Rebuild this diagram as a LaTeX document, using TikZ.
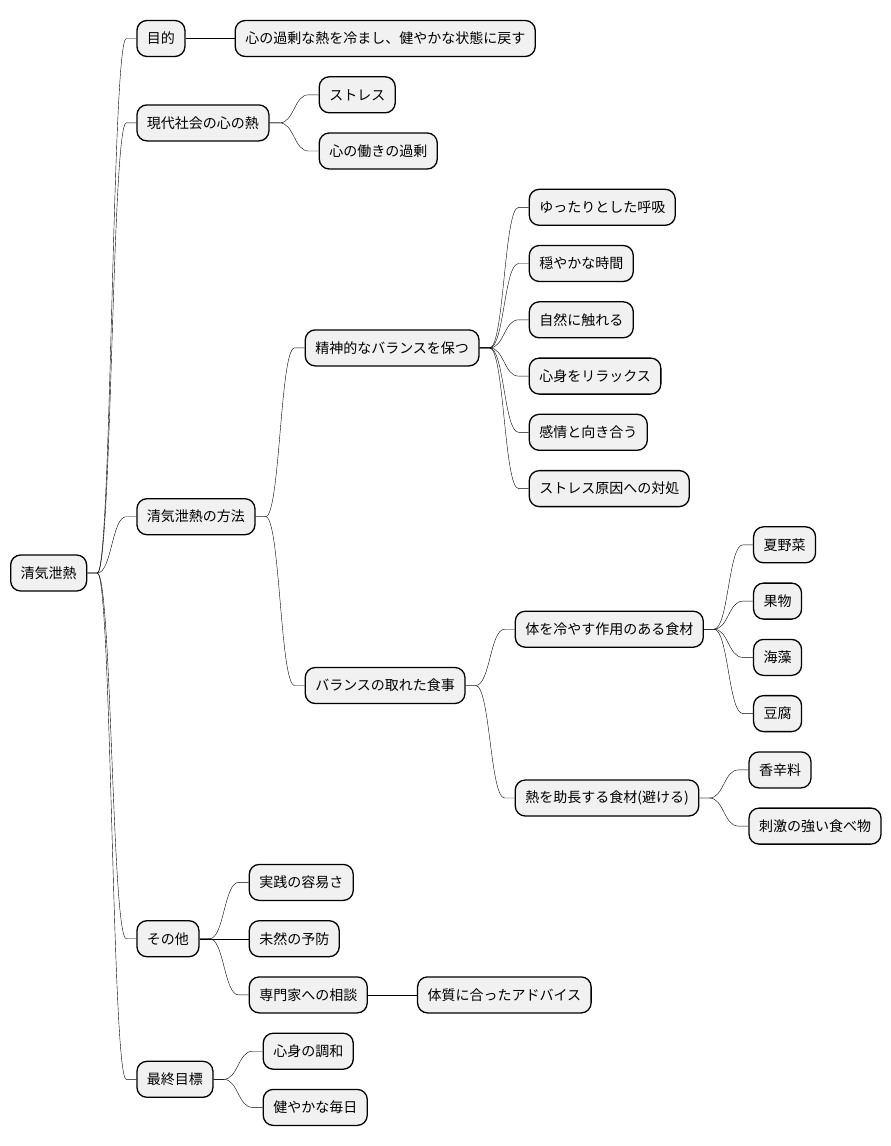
\documentclass[tikz,border=0pt]{standalone}
\usepackage{fontspec}
\newfontfamily\jpfont{Noto Sans CJK JP}
\usetikzlibrary{positioning}
\definecolor{nodegray}{HTML}{F1F1F1}

\begin{document}
\begin{tikzpicture}[x=1pt, y=-1pt,
  topic/.style={draw, rounded corners=10pt, fill=nodegray, line width=1.3pt,
    minimum height=36pt, inner xsep=10pt, inner ysep=0pt,
    font=\jpfont\fontsize{14}{16}\selectfont},
  branch/.style={line width=1pt, to path={-- ++(10,0)
    .. controls +(14.5,0) and ([xshift=-24.5pt]\tikztotarget)
    .. ([xshift=-10pt]\tikztotarget) -- (\tikztotarget)}}]
  \useasboundingbox (0,0) rectangle (891,1146);

  % root and first level
  \node[topic, anchor=west] (root) at (10,573) {清気泄熱};
  \node[topic, right=49pt of root, yshift=534.5pt] (goal) {目的};
  \node[topic, right=49pt of root, yshift=450.1pt] (modern) {現代社会の心の熱};
  \node[topic, right=49pt of root, yshift=56.3pt] (method) {清気泄熱の方法};
  \node[topic, right=49pt of root, yshift=-365.7pt] (other) {その他};
  \node[topic, right=49pt of root, yshift=-506.3pt] (final) {最終目標};

  % second level
  \node[topic, right=49pt of goal] (purpose) {心の過剰な熱を冷まし、健やかな状態に戻す};
  \node[topic, right=49pt of modern, yshift=28.1pt] (stress) {ストレス};
  \node[topic, right=49pt of modern, yshift=-28.1pt] (overwork) {心の働きの過剰};
  \node[topic, right=49pt of method, yshift=168.8pt] (mind) {精神的なバランスを保つ};
  \node[topic, right=49pt of method, yshift=-168.8pt] (diet) {バランスの取れた食事};
  \node[topic, right=49pt of other, yshift=56.3pt] (ease) {実践の容易さ};
  \node[topic, right=49pt of other] (prevent) {未然の予防};
  \node[topic, right=49pt of other, yshift=-56.2pt] (consult) {専門家への相談};
  \node[topic, right=49pt of final, yshift=28.1pt] (harmony) {心身の調和};
  \node[topic, right=49pt of final, yshift=-28.1pt] (daily) {健やかな毎日};

  % third level
  \node[topic, right=49pt of mind, yshift=140.6pt] (breath) {ゆったりとした呼吸};
  \node[topic, right=49pt of mind, yshift=84.4pt] (calm) {穏やかな時間};
  \node[topic, right=49pt of mind, yshift=28.1pt] (nature) {自然に触れる};
  \node[topic, right=49pt of mind, yshift=-28.2pt] (relax) {心身をリラックス};
  \node[topic, right=49pt of mind, yshift=-84.4pt] (emotion) {感情と向き合う};
  \node[topic, right=49pt of mind, yshift=-140.7pt] (cause) {ストレス原因への対処};
  \node[topic, right=49pt of diet, yshift=56.3pt] (cool) {体を冷やす作用のある食材};
  \node[topic, right=49pt of diet, yshift=-112.5pt] (hot) {熱を助長する食材(避ける)};
  \node[topic, right=49pt of consult] (advice) {体質に合ったアドバイス};

  % fourth level
  \node[topic, right=49pt of cool, yshift=84.4pt] (veg) {夏野菜};
  \node[topic, right=49pt of cool, yshift=28.1pt] (fruit) {果物};
  \node[topic, right=49pt of cool, yshift=-28.2pt] (seaweed) {海藻};
  \node[topic, right=49pt of cool, yshift=-84.4pt] (tofu) {豆腐};
  \node[topic, right=49pt of hot, yshift=28.1pt] (spice) {香辛料};
  \node[topic, right=49pt of hot, yshift=-28.1pt] (strong) {刺激の強い食べ物};

  % branches
  \foreach \c in {goal, modern, method, other, final}
    \draw (root.east) to[branch] (\c.west);
  \draw (goal.east) to[branch] (purpose.west);
  \foreach \c in {stress, overwork}
    \draw (modern.east) to[branch] (\c.west);
  \foreach \c in {mind, diet}
    \draw (method.east) to[branch] (\c.west);
  \foreach \c in {ease, prevent, consult}
    \draw (other.east) to[branch] (\c.west);
  \foreach \c in {harmony, daily}
    \draw (final.east) to[branch] (\c.west);
  \foreach \c in {breath, calm, nature, relax, emotion, cause}
    \draw (mind.east) to[branch] (\c.west);
  \foreach \c in {cool, hot}
    \draw (diet.east) to[branch] (\c.west);
  \draw (consult.east) to[branch] (advice.west);
  \foreach \c in {veg, fruit, seaweed, tofu}
    \draw (cool.east) to[branch] (\c.west);
  \foreach \c in {spice, strong}
    \draw (hot.east) to[branch] (\c.west);
\end{tikzpicture}
\end{document}
